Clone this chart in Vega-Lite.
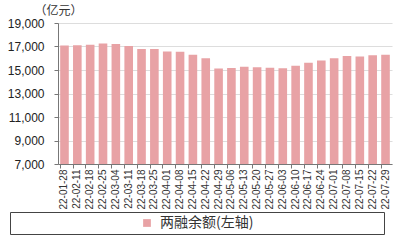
{
  "$schema": "https://vega.github.io/schema/vega-lite/v6.json",
  "width": 334,
  "height": 141,
  "autosize": {"type": "none"},
  "padding": {"left": 58, "top": 23, "right": 8, "bottom": 76},
  "background": "white",
  "data": {
    "values": [
      {"date": "22-01-28", "value": 17080, "s": "两融余额(左轴)"},
      {"date": "22-02-11", "value": 17100, "s": "两融余额(左轴)"},
      {"date": "22-02-18", "value": 17150, "s": "两融余额(左轴)"},
      {"date": "22-02-25", "value": 17250, "s": "两融余额(左轴)"},
      {"date": "22-03-04", "value": 17220, "s": "两融余额(左轴)"},
      {"date": "22-03-11", "value": 17050, "s": "两融余额(左轴)"},
      {"date": "22-03-18", "value": 16780, "s": "两融余额(左轴)"},
      {"date": "22-03-25", "value": 16780, "s": "两融余额(左轴)"},
      {"date": "22-04-01", "value": 16580, "s": "两融余额(左轴)"},
      {"date": "22-04-08", "value": 16560, "s": "两融余额(左轴)"},
      {"date": "22-04-15", "value": 16300, "s": "两融余额(左轴)"},
      {"date": "22-04-22", "value": 16000, "s": "两融余额(左轴)"},
      {"date": "22-04-29", "value": 15120, "s": "两融余额(左轴)"},
      {"date": "22-05-06", "value": 15170, "s": "两融余额(左轴)"},
      {"date": "22-05-13", "value": 15280, "s": "两融余额(左轴)"},
      {"date": "22-05-20", "value": 15230, "s": "两融余额(左轴)"},
      {"date": "22-05-27", "value": 15200, "s": "两融余额(左轴)"},
      {"date": "22-06-03", "value": 15140, "s": "两融余额(左轴)"},
      {"date": "22-06-10", "value": 15360, "s": "两融余额(左轴)"},
      {"date": "22-06-17", "value": 15620, "s": "两融余额(左轴)"},
      {"date": "22-06-24", "value": 15810, "s": "两融余额(左轴)"},
      {"date": "22-07-01", "value": 16000, "s": "两融余额(左轴)"},
      {"date": "22-07-08", "value": 16190, "s": "两融余额(左轴)"},
      {"date": "22-07-15", "value": 16140, "s": "两融余额(左轴)"},
      {"date": "22-07-22", "value": 16250, "s": "两融余额(左轴)"},
      {"date": "22-07-29", "value": 16300, "s": "两融余额(左轴)"}
    ]
  },
  "mark": {"type": "bar", "clip": true},
  "encoding": {
    "x": {
      "field": "date",
      "type": "ordinal",
      "sort": null,
      "scale": {"paddingInner": 0.33, "paddingOuter": 0.17},
      "axis": {
        "title": null,
        "labelAngle": 270,
        "labelFont": "Liberation Sans",
        "labelFontSize": 10,
        "labelColor": "#333333",
        "labelPadding": 1,
        "domainColor": "#777777",
        "tickColor": "#777777",
        "tickSize": 4,
        "bandPosition": 0,
        "grid": false
      }
    },
    "y": {
      "field": "value",
      "type": "quantitative",
      "scale": {"domain": [7000, 19000], "nice": false, "zero": false},
      "axis": {
        "values": [7000, 9000, 11000, 13000, 15000, 17000, 19000],
        "format": ",.0f",
        "title": "（亿元）",
        "titleAngle": 0,
        "titleAlign": "center",
        "titleBaseline": "bottom",
        "titleX": 0,
        "titleY": -6,
        "titleFont": "Noto Sans CJK SC",
        "titleFontSize": 12,
        "titleFontWeight": "normal",
        "titleColor": "#333333",
        "labelFont": "Liberation Sans",
        "labelFontSize": 12,
        "labelColor": "#222222",
        "labelPadding": 10,
        "domainColor": "#777777",
        "tickColor": "#777777",
        "tickSize": 4,
        "gridColor": "#dddddd"
      }
    },
    "color": {
      "field": "s",
      "type": "nominal",
      "scale": {"range": ["#E8A2A5"]},
      "legend": {
        "title": null,
        "orient": "none",
        "legendX": -48,
        "legendY": 189,
        "symbolType": "square",
        "symbolSize": 60,
        "symbolOffset": 126,
        "labelFont": "Noto Sans CJK SC",
        "labelFontSize": 14,
        "labelColor": "#333333",
        "labelOffset": 6,
        "labelLimit": 400,
        "labelExpr": "datum.label + '\u3000\u3000\u3000\u3000\u3000\u3000\u3000\u3000\u3000\u200B'",
        "padding": 4,
        "strokeColor": "#444444"
      }
    }
  },
  "config": {"view": {"stroke": null}}
}
